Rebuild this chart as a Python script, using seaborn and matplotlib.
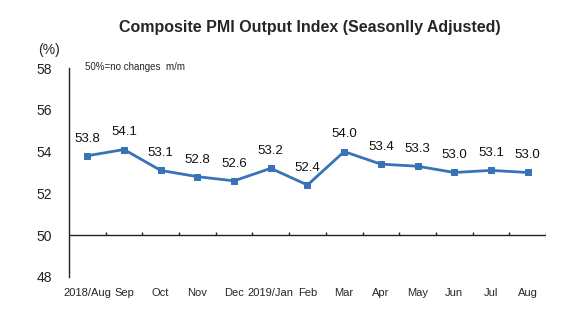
import matplotlib
matplotlib.use("Agg")
import matplotlib.pyplot as plt
import seaborn as sns
import pandas as pd

months = ["2018/Aug", "Sep", "Oct", "Nov", "Dec", "2019/Jan", "Feb", "Mar",
          "Apr", "May", "Jun", "Jul", "Aug"]
values = [53.8, 54.1, 53.1, 52.8, 52.6, 53.2, 52.4, 54.0, 53.4, 53.3, 53.0, 53.1, 53.0]
yticks = [48, 50, 52, 54, 56, 58]

sns.set_style("white")
plt.rcParams["font.family"] = ["Liberation Sans", "DejaVu Sans"]

df = pd.DataFrame({"month": months, "value": values})
df["pos"] = range(len(months))

fig = plt.figure(figsize=(5.84, 3.27), dpi=100)
ax = fig.add_axes([0.118, 0.153, 0.817, 0.639])

color = "#3873B8"
sns.lineplot(data=df, x="pos", y="value", ax=ax, color=color, linewidth=2,
             marker="s", markersize=5, markeredgecolor=color, sort=False)

for x, v in zip(df["pos"], values):
    ax.annotate(f"{v:.1f}", (x, v), xytext=(0, 8), textcoords="offset points",
                ha="center", va="bottom", fontsize=9.5, color="#111111")

ax.set_xlim(-0.5, len(months) - 0.5)
ax.set_ylim(48, 58)
ax.set_yticks(yticks)
ax.set_yticklabels([str(t) for t in yticks], fontsize=10)
ax.tick_params(axis="y", direction="in", length=4, width=1, colors="#222222", pad=12)
ax.set_xticks(list(df["pos"]))
ax.set_xticklabels(months, fontsize=8,
                   family=["Liberation Sans Narrow", "Liberation Sans", "DejaVu Sans"])
ax.tick_params(axis="x", length=0, pad=8)
ax.set_xlabel("")
ax.set_ylabel("")

for s in ["top", "right", "bottom"]:
    ax.spines[s].set_visible(False)
ax.spines["left"].set_color("#222222")
ax.spines["left"].set_linewidth(1)

# category axis drawn at 50
ax.axhline(50, color="#222222", linewidth=1, zorder=1)
bounds = [i + 0.5 for i in range(len(months))]
ax.vlines(bounds, 50, 50.15, color="#222222", linewidth=1, zorder=1)

fig.text(0.53, 0.915, "Composite PMI Output Index (Seasonlly Adjusted)",
         ha="center", va="center", fontsize=11.5, fontweight="bold")
fig.text(0.066, 0.848, "(%)", ha="left", va="center", fontsize=10)
fig.text(0.145, 0.796, "50%=no changes  m/m", ha="left", va="center", fontsize=7,
         family=["Liberation Sans Narrow", "Liberation Sans", "DejaVu Sans"])

fig.savefig("out.png", dpi=100)
